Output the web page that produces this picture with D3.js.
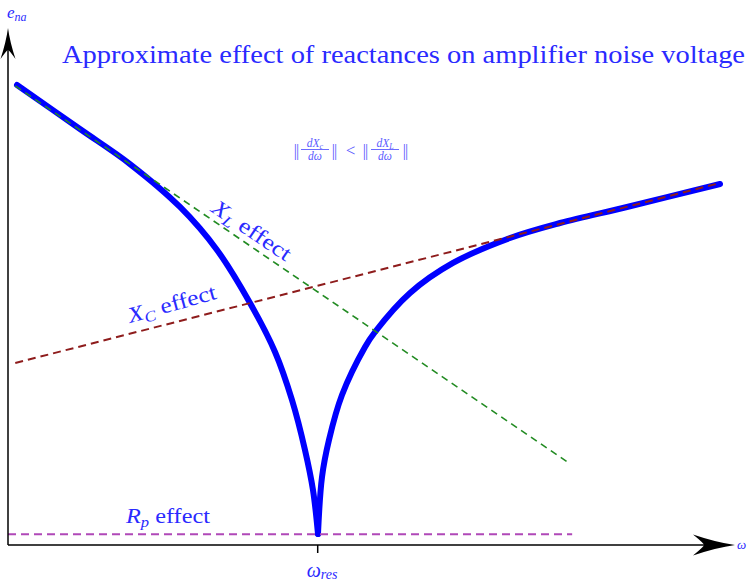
<!DOCTYPE html>
<html>
<head>
<meta charset="utf-8">
<script src="https://cdn.jsdelivr.net/npm/d3@7/dist/d3.min.js"></script>
<style>
  html, body { margin: 0; padding: 0; background: #fff; overflow: hidden; }
  svg { display: block; }
  text { font-family: "Liberation Serif", "DejaVu Serif", serif; }
</style>
</head>
<body>
<svg id="chart" width="747" height="581"></svg>
<script>
// ---- data (ω and e_na in arbitrary units) ----
const titleText = "Approximate effect of reactances on amplifier noise voltage";
const omegaRes = 4.26;

// straight-line asymptotes: [ω, e]
const xlEffect = [[0.10, 8.88], [7.69, 1.61]];
const xcEffect = [[0.10, 3.52], [9.79, 7.00]];
const rpEffect = [[0.00, 0.21], [7.76, 0.21]];

// combined noise voltage, below resonance
const enaLow = [
  [0.124, 8.897], [0.990, 8.046], [1.678, 7.369], [2.366, 6.538], [2.875, 5.706],
  [3.329, 4.681], [3.673, 3.733], [3.906, 2.805], [4.085, 1.838], [4.195, 1.064],
  [4.264, 0.213]
];
// combined noise voltage, above resonance
const enaHigh = [
  [4.264, 0.213], [4.319, 1.315], [4.415, 2.031], [4.594, 2.901], [4.911, 3.830],
  [5.048, 4.120], [5.530, 4.874], [6.121, 5.455], [6.905, 5.938], [7.593, 6.228],
  [8.514, 6.538], [9.794, 6.983]
];

// ---- layout ----
const svg = d3.select("#chart");
const x = d3.scaleLinear().domain([0, 10]).range([8, 735]);
const y = d3.scaleLinear().domain([0, 10]).range([545, 28]);
const blue = "#0000ff";
const textBlue = "#2a2aff";

const line = d3.line().x(d => x(d[0])).y(d => y(d[1]));
const smooth = d3.line().x(d => x(d[0])).y(d => y(d[1])).curve(d3.curveCatmullRom.alpha(0.5));

// combined curve (drawn first, asymptotes overlay it)
[enaLow, enaHigh].forEach(branch => {
  svg.append("path")
    .attr("d", smooth(branch))
    .attr("fill", "none")
    .attr("stroke", blue)
    .attr("stroke-width", 6)
    .attr("stroke-linecap", "round")
    .attr("stroke-linejoin", "round");
});

svg.append("path").attr("d", line(xlEffect))
  .attr("fill", "none").attr("stroke", "#228b22")
  .attr("stroke-width", 1.6).attr("stroke-dasharray", "7,5");

svg.append("path").attr("d", line(xcEffect))
  .attr("fill", "none").attr("stroke", "#8e1c1c")
  .attr("stroke-width", 2).attr("stroke-dasharray", "8,5");

svg.append("path").attr("d", line(rpEffect))
  .attr("fill", "none").attr("stroke", "#b048b8")
  .attr("stroke-width", 2).attr("stroke-dasharray", "8,5");

// ---- axes with stealth arrowheads ----
const axisG = svg.append("g");
axisG.append("line")
  .attr("x1", x(0)).attr("y1", y(0)).attr("x2", x(0)).attr("y2", y(10) + 10)
  .attr("stroke", "#000").attr("stroke-width", 1.5);
axisG.append("line")
  .attr("x1", x(0)).attr("y1", y(0)).attr("x2", x(10) - 12).attr("y2", y(0))
  .attr("stroke", "#000").attr("stroke-width", 1.5);

function stealth(tx, ty, dx, dy, len, half, notch) {
  // tip at (tx,ty), pointing along unit vector (dx,dy)
  const px = -dy, py = dx;
  const bx = tx - dx * len, by = ty - dy * len;
  const p = d3.path();
  p.moveTo(tx, ty);
  p.quadraticCurveTo(tx - dx * len * 0.45 + px * half * 0.25, ty - dy * len * 0.45 + py * half * 0.25,
                     bx + px * half, by + py * half);
  p.quadraticCurveTo(tx - dx * (len - notch) + px * half * 0.15, ty - dy * (len - notch) + py * half * 0.15,
                     tx - dx * (len - notch), ty - dy * (len - notch));
  p.quadraticCurveTo(tx - dx * (len - notch) - px * half * 0.15, ty - dy * (len - notch) - py * half * 0.15,
                     bx - px * half, by - py * half);
  p.quadraticCurveTo(tx - dx * len * 0.45 - px * half * 0.25, ty - dy * len * 0.45 - py * half * 0.25,
                     tx, ty);
  p.closePath();
  return p.toString();
}
axisG.append("path").attr("d", stealth(x(0), y(10), 0, -1, 31, 7.5, 9)).attr("fill", "#000");
axisG.append("path").attr("d", stealth(x(10), y(0), 1, 0, 42, 10.5, 11)).attr("fill", "#000");

// resonance tick
axisG.append("line")
  .attr("x1", x(omegaRes)).attr("x2", x(omegaRes))
  .attr("y1", y(0)).attr("y2", y(0) + 8)
  .attr("stroke", "#000").attr("stroke-width", 1.5);

// ---- text ----
svg.append("text")
  .attr("x", 62).attr("y", 63)
  .attr("font-size", 25)
  .attr("fill", textBlue)
  .attr("textLength", 683).attr("lengthAdjust", "spacingAndGlyphs")
  .text(titleText);

// axis labels
const ena = svg.append("text").attr("x", 7).attr("y", 18).attr("fill", textBlue);
ena.append("tspan").attr("font-size", 17).attr("font-style", "italic").text("e");
ena.append("tspan").attr("font-size", 12).attr("font-style", "italic").attr("dy", 3).text("na");

svg.append("text").attr("x", 737).attr("y", 549).attr("fill", textBlue)
  .attr("font-size", 13).attr("font-style", "italic").text("ω");

const wres = svg.append("text").attr("x", x(omegaRes) - 11).attr("y", 577).attr("fill", textBlue);
wres.append("tspan").attr("font-size", 20).attr("font-style", "italic").text("ω");
wres.append("tspan").attr("font-size", 14).attr("font-style", "italic").attr("dy", 2).text("res");

// effect labels
function effectLabel(px, py, angle, sym, sub, len) {
  const t = svg.append("text")
    .attr("transform", `translate(${px},${py}) rotate(${angle})`)
    .attr("fill", textBlue).attr("font-size", 22)
    .attr("textLength", len).attr("lengthAdjust", "spacingAndGlyphs");
  t.append("tspan").attr("font-style", "italic").text(sym);
  t.append("tspan").attr("font-style", "italic").attr("font-size", 15).attr("dy", 4).text(sub);
  t.append("tspan").attr("dy", -4).text(" effect");
}
effectLabel(210, 211, 34, "X", "L", 91);
effectLabel(130, 323, -15.5, "X", "C", 91);
effectLabel(126, 523, 0, "R", "p", 84);

// derivative inequality: ||dXc/dω|| < ||dXL/dω||
const fColor = "#5a5aff";
const fg = svg.append("g").attr("fill", fColor);
function frac(cx, sub) {
  const num = fg.append("text").attr("x", cx).attr("y", 146.5).attr("text-anchor", "middle")
    .attr("font-size", 11.5).attr("font-style", "italic");
  num.append("tspan").text("dX");
  num.append("tspan").attr("font-size", 8).attr("dy", 2).text(sub);
  fg.append("line").attr("x1", cx - 14).attr("x2", cx + 14).attr("y1", 149.5).attr("y2", 149.5)
    .attr("stroke", fColor).attr("stroke-width", 0.9);
  fg.append("text").attr("x", cx).attr("y", 160).attr("text-anchor", "middle")
    .attr("font-size", 11.5).attr("font-style", "italic").text("dω");
}
function sym(xx, s, size) {
  fg.append("text").attr("x", xx).attr("y", 156).attr("text-anchor", "middle")
    .attr("font-size", size).attr("letter-spacing", -1).text(s);
}
sym(296, "||", 16);
frac(315, "c");
sym(334, "||", 16);
sym(350, "<", 17);
sym(365, "||", 16);
frac(385, "L");
sym(405, "||", 16);
</script>
</body>
</html>
